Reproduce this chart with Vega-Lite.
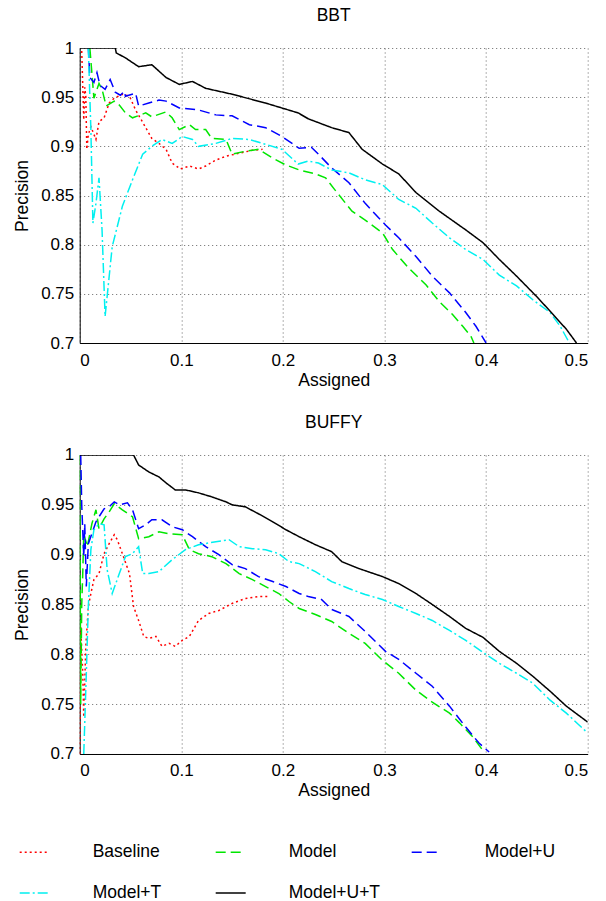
{
"$schema": "https://vega.github.io/schema/vega-lite/v6.json",
"padding": {"left": 12.7, "top": 6, "right": 5, "bottom": 5},
"datasets": {
"bbt": [
{"series":"Baseline","assigned":0.002,"precision":0.997},{"series":"Baseline","assigned":0.004,"precision":0.927},{"series":"Baseline","assigned":0.005,"precision":0.96},{"series":"Baseline","assigned":0.006,"precision":0.951},{"series":"Baseline","assigned":0.007,"precision":0.897},{"series":"Baseline","assigned":0.0085,"precision":0.912},{"series":"Baseline","assigned":0.011,"precision":0.92},{"series":"Baseline","assigned":0.016,"precision":0.907},{"series":"Baseline","assigned":0.019,"precision":0.925},{"series":"Baseline","assigned":0.024,"precision":0.929},{"series":"Baseline","assigned":0.029,"precision":0.944},{"series":"Baseline","assigned":0.034,"precision":0.949},{"series":"Baseline","assigned":0.042,"precision":0.953},{"series":"Baseline","assigned":0.049,"precision":0.951},{"series":"Baseline","assigned":0.055,"precision":0.937},{"series":"Baseline","assigned":0.065,"precision":0.919},{"series":"Baseline","assigned":0.071,"precision":0.908},{"series":"Baseline","assigned":0.078,"precision":0.903},{"series":"Baseline","assigned":0.085,"precision":0.897},{"series":"Baseline","assigned":0.091,"precision":0.883},{"series":"Baseline","assigned":0.099,"precision":0.877},{"series":"Baseline","assigned":0.108,"precision":0.88},{"series":"Baseline","assigned":0.117,"precision":0.877},{"series":"Baseline","assigned":0.124,"precision":0.88},{"series":"Baseline","assigned":0.134,"precision":0.886},{"series":"Baseline","assigned":0.144,"precision":0.89},{"series":"Baseline","assigned":0.157,"precision":0.893},{"series":"Baseline","assigned":0.17,"precision":0.896},{"series":"Baseline","assigned":0.18,"precision":0.897},
{"series":"Model","assigned":0.01,"precision":1.0},{"series":"Model","assigned":0.014,"precision":0.949},{"series":"Model","assigned":0.019,"precision":0.964},{"series":"Model","assigned":0.022,"precision":0.958},{"series":"Model","assigned":0.026,"precision":0.941},{"series":"Model","assigned":0.034,"precision":0.946},{"series":"Model","assigned":0.039,"precision":0.942},{"series":"Model","assigned":0.045,"precision":0.934},{"series":"Model","assigned":0.052,"precision":0.929},{"series":"Model","assigned":0.065,"precision":0.934},{"series":"Model","assigned":0.071,"precision":0.93},{"series":"Model","assigned":0.085,"precision":0.935},{"series":"Model","assigned":0.091,"precision":0.929},{"series":"Model","assigned":0.098,"precision":0.917},{"series":"Model","assigned":0.108,"precision":0.922},{"series":"Model","assigned":0.114,"precision":0.917},{"series":"Model","assigned":0.124,"precision":0.917},{"series":"Model","assigned":0.13,"precision":0.908},{"series":"Model","assigned":0.144,"precision":0.907},{"series":"Model","assigned":0.15,"precision":0.892},{"series":"Model","assigned":0.163,"precision":0.895},{"series":"Model","assigned":0.176,"precision":0.897},{"series":"Model","assigned":0.19,"precision":0.888},{"series":"Model","assigned":0.203,"precision":0.881},{"series":"Model","assigned":0.216,"precision":0.876},{"series":"Model","assigned":0.232,"precision":0.872},{"series":"Model","assigned":0.242,"precision":0.868},{"series":"Model","assigned":0.251,"precision":0.856},{"series":"Model","assigned":0.268,"precision":0.834},{"series":"Model","assigned":0.281,"precision":0.825},{"series":"Model","assigned":0.298,"precision":0.812},{"series":"Model","assigned":0.308,"precision":0.795},{"series":"Model","assigned":0.324,"precision":0.776},{"series":"Model","assigned":0.341,"precision":0.759},{"series":"Model","assigned":0.354,"precision":0.742},{"series":"Model","assigned":0.367,"precision":0.729},{"series":"Model","assigned":0.377,"precision":0.717},{"series":"Model","assigned":0.385,"precision":0.707},{"series":"Model","assigned":0.388,"precision":0.7},
{"series":"Model+U","assigned":0.0085,"precision":1.0},{"series":"Model+U","assigned":0.01,"precision":0.97},{"series":"Model+U","assigned":0.014,"precision":0.965},{"series":"Model+U","assigned":0.017,"precision":0.975},{"series":"Model+U","assigned":0.02,"precision":0.962},{"series":"Model+U","assigned":0.025,"precision":0.958},{"series":"Model+U","assigned":0.03,"precision":0.968},{"series":"Model+U","assigned":0.035,"precision":0.955},{"series":"Model+U","assigned":0.04,"precision":0.952},{"series":"Model+U","assigned":0.044,"precision":0.956},{"series":"Model+U","assigned":0.045,"precision":0.951},{"series":"Model+U","assigned":0.055,"precision":0.954},{"series":"Model+U","assigned":0.058,"precision":0.941},{"series":"Model+U","assigned":0.068,"precision":0.944},{"series":"Model+U","assigned":0.078,"precision":0.947},{"series":"Model+U","assigned":0.085,"precision":0.946},{"series":"Model+U","assigned":0.098,"precision":0.939},{"series":"Model+U","assigned":0.117,"precision":0.937},{"series":"Model+U","assigned":0.134,"precision":0.932},{"series":"Model+U","assigned":0.15,"precision":0.931},{"series":"Model+U","assigned":0.167,"precision":0.922},{"series":"Model+U","assigned":0.183,"precision":0.919},{"series":"Model+U","assigned":0.199,"precision":0.91},{"series":"Model+U","assigned":0.216,"precision":0.898},{"series":"Model+U","assigned":0.228,"precision":0.899},{"series":"Model+U","assigned":0.235,"precision":0.892},{"series":"Model+U","assigned":0.248,"precision":0.878},{"series":"Model+U","assigned":0.265,"precision":0.863},{"series":"Model+U","assigned":0.281,"precision":0.842},{"series":"Model+U","assigned":0.301,"precision":0.82},{"series":"Model+U","assigned":0.314,"precision":0.807},{"series":"Model+U","assigned":0.331,"precision":0.788},{"series":"Model+U","assigned":0.347,"precision":0.768},{"series":"Model+U","assigned":0.364,"precision":0.751},{"series":"Model+U","assigned":0.38,"precision":0.731},{"series":"Model+U","assigned":0.39,"precision":0.717},{"series":"Model+U","assigned":0.4,"precision":0.7},
{"series":"Model+T","assigned":0.0085,"precision":1.0},{"series":"Model+T","assigned":0.011,"precision":0.917},{"series":"Model+T","assigned":0.013,"precision":0.822},{"series":"Model+T","assigned":0.016,"precision":0.842},{"series":"Model+T","assigned":0.019,"precision":0.868},{"series":"Model+T","assigned":0.022,"precision":0.815},{"series":"Model+T","assigned":0.025,"precision":0.727},{"series":"Model+T","assigned":0.032,"precision":0.798},{"series":"Model+T","assigned":0.042,"precision":0.839},{"series":"Model+T","assigned":0.052,"precision":0.866},{"series":"Model+T","assigned":0.062,"precision":0.892},{"series":"Model+T","assigned":0.071,"precision":0.9},{"series":"Model+T","assigned":0.081,"precision":0.907},{"series":"Model+T","assigned":0.091,"precision":0.903},{"series":"Model+T","assigned":0.101,"precision":0.91},{"series":"Model+T","assigned":0.111,"precision":0.907},{"series":"Model+T","assigned":0.117,"precision":0.9},{"series":"Model+T","assigned":0.134,"precision":0.903},{"series":"Model+T","assigned":0.15,"precision":0.908},{"series":"Model+T","assigned":0.167,"precision":0.907},{"series":"Model+T","assigned":0.183,"precision":0.902},{"series":"Model+T","assigned":0.199,"precision":0.897},{"series":"Model+T","assigned":0.215,"precision":0.882},{"series":"Model+T","assigned":0.225,"precision":0.885},{"series":"Model+T","assigned":0.235,"precision":0.883},{"series":"Model+T","assigned":0.248,"precision":0.876},{"series":"Model+T","assigned":0.265,"precision":0.873},{"series":"Model+T","assigned":0.281,"precision":0.866},{"series":"Model+T","assigned":0.298,"precision":0.861},{"series":"Model+T","assigned":0.314,"precision":0.846},{"series":"Model+T","assigned":0.331,"precision":0.837},{"series":"Model+T","assigned":0.347,"precision":0.822},{"series":"Model+T","assigned":0.364,"precision":0.807},{"series":"Model+T","assigned":0.38,"precision":0.795},{"series":"Model+T","assigned":0.397,"precision":0.785},{"series":"Model+T","assigned":0.413,"precision":0.769},{"series":"Model+T","assigned":0.43,"precision":0.758},{"series":"Model+T","assigned":0.446,"precision":0.744},{"series":"Model+T","assigned":0.463,"precision":0.731},{"series":"Model+T","assigned":0.473,"precision":0.717},{"series":"Model+T","assigned":0.482,"precision":0.7},
{"series":"Model+U+T","assigned":0,"precision":1.0},{"series":"Model+U+T","assigned":0.035,"precision":1.0},{"series":"Model+U+T","assigned":0.036,"precision":0.995},{"series":"Model+U+T","assigned":0.045,"precision":0.99},{"series":"Model+U+T","assigned":0.058,"precision":0.981},{"series":"Model+U+T","assigned":0.071,"precision":0.983},{"series":"Model+U+T","assigned":0.085,"precision":0.97},{"series":"Model+U+T","assigned":0.098,"precision":0.963},{"series":"Model+U+T","assigned":0.111,"precision":0.966},{"series":"Model+U+T","assigned":0.124,"precision":0.959},{"series":"Model+U+T","assigned":0.15,"precision":0.953},{"series":"Model+U+T","assigned":0.183,"precision":0.944},{"series":"Model+U+T","assigned":0.215,"precision":0.934},{"series":"Model+U+T","assigned":0.225,"precision":0.928},{"series":"Model+U+T","assigned":0.248,"precision":0.919},{"series":"Model+U+T","assigned":0.265,"precision":0.914},{"series":"Model+U+T","assigned":0.278,"precision":0.897},{"series":"Model+U+T","assigned":0.298,"precision":0.882},{"series":"Model+U+T","assigned":0.314,"precision":0.872},{"series":"Model+U+T","assigned":0.331,"precision":0.853},{"series":"Model+U+T","assigned":0.354,"precision":0.834},{"series":"Model+U+T","assigned":0.38,"precision":0.815},{"series":"Model+U+T","assigned":0.397,"precision":0.802},{"series":"Model+U+T","assigned":0.413,"precision":0.785},{"series":"Model+U+T","assigned":0.43,"precision":0.768},{"series":"Model+U+T","assigned":0.45,"precision":0.747},{"series":"Model+U+T","assigned":0.466,"precision":0.729},{"series":"Model+U+T","assigned":0.479,"precision":0.714},{"series":"Model+U+T","assigned":0.489,"precision":0.7}
],
"buffy": [
{"series":"Baseline","assigned":0,"precision":0.7},{"series":"Baseline","assigned":0.001,"precision":0.828},{"series":"Baseline","assigned":0.003,"precision":0.781},{"series":"Baseline","assigned":0.004,"precision":0.737},{"series":"Baseline","assigned":0.006,"precision":0.808},{"series":"Baseline","assigned":0.0085,"precision":0.848},{"series":"Baseline","assigned":0.011,"precision":0.861},{"series":"Baseline","assigned":0.014,"precision":0.875},{"series":"Baseline","assigned":0.019,"precision":0.881},{"series":"Baseline","assigned":0.024,"precision":0.901},{"series":"Baseline","assigned":0.029,"precision":0.911},{"series":"Baseline","assigned":0.034,"precision":0.92},{"series":"Baseline","assigned":0.037,"precision":0.915},{"series":"Baseline","assigned":0.042,"precision":0.901},{"series":"Baseline","assigned":0.049,"precision":0.881},{"series":"Baseline","assigned":0.053,"precision":0.848},{"series":"Baseline","assigned":0.058,"precision":0.834},{"series":"Baseline","assigned":0.063,"precision":0.818},{"series":"Baseline","assigned":0.068,"precision":0.816},{"series":"Baseline","assigned":0.075,"precision":0.818},{"series":"Baseline","assigned":0.081,"precision":0.808},{"series":"Baseline","assigned":0.088,"precision":0.811},{"series":"Baseline","assigned":0.094,"precision":0.808},{"series":"Baseline","assigned":0.101,"precision":0.814},{"series":"Baseline","assigned":0.108,"precision":0.818},{"series":"Baseline","assigned":0.117,"precision":0.834},{"series":"Baseline","assigned":0.127,"precision":0.841},{"series":"Baseline","assigned":0.137,"precision":0.844},{"series":"Baseline","assigned":0.15,"precision":0.851},{"series":"Baseline","assigned":0.163,"precision":0.856},{"series":"Baseline","assigned":0.176,"precision":0.858},{"series":"Baseline","assigned":0.186,"precision":0.858},
{"series":"Model","assigned":0,"precision":1.0},{"series":"Model","assigned":0.001,"precision":0.75},{"series":"Model","assigned":0.002,"precision":0.85},{"series":"Model","assigned":0.003,"precision":0.881},{"series":"Model","assigned":0.004,"precision":0.921},{"series":"Model","assigned":0.0075,"precision":0.908},{"series":"Model","assigned":0.012,"precision":0.931},{"series":"Model","assigned":0.016,"precision":0.945},{"series":"Model","assigned":0.019,"precision":0.926},{"series":"Model","assigned":0.024,"precision":0.936},{"series":"Model","assigned":0.029,"precision":0.943},{"series":"Model","assigned":0.034,"precision":0.951},{"series":"Model","assigned":0.042,"precision":0.945},{"series":"Model","assigned":0.052,"precision":0.938},{"series":"Model","assigned":0.058,"precision":0.916},{"series":"Model","assigned":0.068,"precision":0.918},{"series":"Model","assigned":0.078,"precision":0.923},{"series":"Model","assigned":0.088,"precision":0.921},{"series":"Model","assigned":0.101,"precision":0.92},{"series":"Model","assigned":0.108,"precision":0.905},{"series":"Model","assigned":0.117,"precision":0.901},{"series":"Model","assigned":0.13,"precision":0.898},{"series":"Model","assigned":0.144,"precision":0.891},{"series":"Model","assigned":0.157,"precision":0.881},{"series":"Model","assigned":0.17,"precision":0.875},{"series":"Model","assigned":0.183,"precision":0.868},{"series":"Model","assigned":0.196,"precision":0.861},{"series":"Model","assigned":0.206,"precision":0.853},{"series":"Model","assigned":0.216,"precision":0.846},{"series":"Model","assigned":0.232,"precision":0.84},{"series":"Model","assigned":0.248,"precision":0.833},{"series":"Model","assigned":0.265,"precision":0.821},{"series":"Model","assigned":0.281,"precision":0.811},{"series":"Model","assigned":0.298,"precision":0.794},{"series":"Model","assigned":0.314,"precision":0.781},{"series":"Model","assigned":0.331,"precision":0.764},{"series":"Model","assigned":0.347,"precision":0.752},{"series":"Model","assigned":0.364,"precision":0.741},{"series":"Model","assigned":0.374,"precision":0.731},{"series":"Model","assigned":0.387,"precision":0.717},{"series":"Model","assigned":0.398,"precision":0.702},
{"series":"Model+U","assigned":0.001,"precision":1.0},{"series":"Model+U","assigned":0.002,"precision":0.95},{"series":"Model+U","assigned":0.004,"precision":0.898},{"series":"Model+U","assigned":0.005,"precision":0.931},{"series":"Model+U","assigned":0.0065,"precision":0.868},{"series":"Model+U","assigned":0.0085,"precision":0.911},{"series":"Model+U","assigned":0.012,"precision":0.921},{"series":"Model+U","assigned":0.016,"precision":0.933},{"series":"Model+U","assigned":0.019,"precision":0.938},{"series":"Model+U","assigned":0.024,"precision":0.946},{"series":"Model+U","assigned":0.029,"precision":0.948},{"series":"Model+U","assigned":0.034,"precision":0.953},{"series":"Model+U","assigned":0.039,"precision":0.95},{"series":"Model+U","assigned":0.047,"precision":0.952},{"series":"Model+U","assigned":0.052,"precision":0.945},{"series":"Model+U","assigned":0.058,"precision":0.926},{"series":"Model+U","assigned":0.065,"precision":0.93},{"series":"Model+U","assigned":0.071,"precision":0.935},{"series":"Model+U","assigned":0.081,"precision":0.935},{"series":"Model+U","assigned":0.091,"precision":0.928},{"series":"Model+U","assigned":0.101,"precision":0.925},{"series":"Model+U","assigned":0.111,"precision":0.918},{"series":"Model+U","assigned":0.124,"precision":0.908},{"series":"Model+U","assigned":0.137,"precision":0.9},{"series":"Model+U","assigned":0.15,"precision":0.89},{"series":"Model+U","assigned":0.163,"precision":0.886},{"series":"Model+U","assigned":0.176,"precision":0.878},{"series":"Model+U","assigned":0.19,"precision":0.873},{"series":"Model+U","assigned":0.203,"precision":0.868},{"series":"Model+U","assigned":0.216,"precision":0.861},{"series":"Model+U","assigned":0.225,"precision":0.858},{"series":"Model+U","assigned":0.238,"precision":0.855},{"series":"Model+U","assigned":0.248,"precision":0.845},{"series":"Model+U","assigned":0.265,"precision":0.838},{"series":"Model+U","assigned":0.281,"precision":0.823},{"series":"Model+U","assigned":0.301,"precision":0.803},{"series":"Model+U","assigned":0.314,"precision":0.795},{"series":"Model+U","assigned":0.331,"precision":0.781},{"series":"Model+U","assigned":0.347,"precision":0.768},{"series":"Model+U","assigned":0.364,"precision":0.748},{"series":"Model+U","assigned":0.38,"precision":0.727},{"series":"Model+U","assigned":0.393,"precision":0.711},{"series":"Model+U","assigned":0.403,"precision":0.702},
{"series":"Model+T","assigned":0.004,"precision":0.7},{"series":"Model+T","assigned":0.0065,"precision":0.78},{"series":"Model+T","assigned":0.0085,"precision":0.848},{"series":"Model+T","assigned":0.011,"precision":0.905},{"series":"Model+T","assigned":0.014,"precision":0.925},{"series":"Model+T","assigned":0.019,"precision":0.931},{"series":"Model+T","assigned":0.024,"precision":0.93},{"series":"Model+T","assigned":0.027,"precision":0.885},{"series":"Model+T","assigned":0.032,"precision":0.861},{"series":"Model+T","assigned":0.039,"precision":0.881},{"series":"Model+T","assigned":0.045,"precision":0.898},{"series":"Model+T","assigned":0.052,"precision":0.901},{"series":"Model+T","assigned":0.058,"precision":0.908},{"series":"Model+T","assigned":0.062,"precision":0.881},{"series":"Model+T","assigned":0.068,"precision":0.881},{"series":"Model+T","assigned":0.078,"precision":0.883},{"series":"Model+T","assigned":0.091,"precision":0.895},{"series":"Model+T","assigned":0.104,"precision":0.905},{"series":"Model+T","assigned":0.117,"precision":0.91},{"series":"Model+T","assigned":0.134,"precision":0.913},{"series":"Model+T","assigned":0.147,"precision":0.915},{"series":"Model+T","assigned":0.157,"precision":0.908},{"series":"Model+T","assigned":0.17,"precision":0.906},{"series":"Model+T","assigned":0.183,"precision":0.905},{"series":"Model+T","assigned":0.196,"precision":0.901},{"series":"Model+T","assigned":0.206,"precision":0.893},{"series":"Model+T","assigned":0.216,"precision":0.891},{"series":"Model+T","assigned":0.232,"precision":0.883},{"series":"Model+T","assigned":0.248,"precision":0.873},{"series":"Model+T","assigned":0.265,"precision":0.866},{"series":"Model+T","assigned":0.281,"precision":0.86},{"series":"Model+T","assigned":0.298,"precision":0.855},{"series":"Model+T","assigned":0.314,"precision":0.848},{"series":"Model+T","assigned":0.331,"precision":0.841},{"series":"Model+T","assigned":0.347,"precision":0.834},{"series":"Model+T","assigned":0.364,"precision":0.824},{"series":"Model+T","assigned":0.38,"precision":0.814},{"series":"Model+T","assigned":0.397,"precision":0.802},{"series":"Model+T","assigned":0.413,"precision":0.791},{"series":"Model+T","assigned":0.43,"precision":0.781},{"series":"Model+T","assigned":0.446,"precision":0.771},{"series":"Model+T","assigned":0.463,"precision":0.754},{"series":"Model+T","assigned":0.479,"precision":0.741},{"series":"Model+T","assigned":0.5,"precision":0.721},
{"series":"Model+U+T","assigned":0,"precision":1.0},{"series":"Model+U+T","assigned":0.053,"precision":1.0},{"series":"Model+U+T","assigned":0.058,"precision":0.99},{"series":"Model+U+T","assigned":0.068,"precision":0.983},{"series":"Model+U+T","assigned":0.078,"precision":0.978},{"series":"Model+U+T","assigned":0.085,"precision":0.972},{"series":"Model+U+T","assigned":0.094,"precision":0.965},{"series":"Model+U+T","assigned":0.104,"precision":0.965},{"series":"Model+U+T","assigned":0.117,"precision":0.962},{"series":"Model+U+T","assigned":0.13,"precision":0.958},{"series":"Model+U+T","assigned":0.144,"precision":0.953},{"series":"Model+U+T","assigned":0.15,"precision":0.95},{"series":"Model+U+T","assigned":0.163,"precision":0.948},{"series":"Model+U+T","assigned":0.176,"precision":0.941},{"series":"Model+U+T","assigned":0.19,"precision":0.933},{"series":"Model+U+T","assigned":0.203,"precision":0.925},{"series":"Model+U+T","assigned":0.216,"precision":0.918},{"series":"Model+U+T","assigned":0.232,"precision":0.91},{"series":"Model+U+T","assigned":0.248,"precision":0.903},{"series":"Model+U+T","assigned":0.258,"precision":0.893},{"series":"Model+U+T","assigned":0.275,"precision":0.886},{"series":"Model+U+T","assigned":0.298,"precision":0.878},{"series":"Model+U+T","assigned":0.314,"precision":0.871},{"series":"Model+U+T","assigned":0.331,"precision":0.861},{"series":"Model+U+T","assigned":0.347,"precision":0.85},{"series":"Model+U+T","assigned":0.364,"precision":0.838},{"series":"Model+U+T","assigned":0.38,"precision":0.826},{"series":"Model+U+T","assigned":0.397,"precision":0.817},{"series":"Model+U+T","assigned":0.413,"precision":0.803},{"series":"Model+U+T","assigned":0.43,"precision":0.791},{"series":"Model+U+T","assigned":0.446,"precision":0.778},{"series":"Model+U+T","assigned":0.463,"precision":0.763},{"series":"Model+U+T","assigned":0.479,"precision":0.748},{"series":"Model+U+T","assigned":0.5,"precision":0.732}
]
},
"spacing": 24,
"vconcat": [
{
"title": "BBT",
"width": 508, "height": 295,
"data": {"name": "bbt"},
"mark": {"type": "line", "strokeWidth": 1.5, "clip": true},
"encoding": {
"x": {"field": "assigned", "type": "quantitative", "title": "Assigned", "scale": {"domain": [0, 0.5], "nice": false}, "axis": {"values": [0, 0.1, 0.2, 0.3, 0.4, 0.5], "format": "~g"}},
"y": {"field": "precision", "type": "quantitative", "title": "Precision", "scale": {"domain": [0.7, 1], "nice": false, "zero": false}, "axis": {"values": [0.7, 0.75, 0.8, 0.85, 0.9, 0.95, 1], "format": "~g"}},
"color": {"field": "series", "type": "nominal", "title": null, "scale": {"domain": ["Baseline", "Model", "Model+U", "Model+T", "Model+U+T"], "range": ["#ff0000", "#00e600", "#0000ff", "#00f0f0", "#000000"]}, "legend": {"orient": "none", "legendX": -66, "legendY": 793, "columns": 3, "direction": "horizontal"}},
"strokeDash": {"field": "series", "type": "nominal", "title": null, "scale": {"domain": ["Baseline", "Model", "Model+U", "Model+T", "Model+U+T"], "range": [[2, 3], [10, 5], [10, 5], [10, 3, 2, 3], [1, 0]]}, "legend": {"orient": "none", "legendX": -66, "legendY": 793, "columns": 3, "direction": "horizontal"}}
}
},
{
"title": "BUFFY",
"width": 508, "height": 299,
"data": {"name": "buffy"},
"mark": {"type": "line", "strokeWidth": 1.5, "clip": true},
"encoding": {
"x": {"field": "assigned", "type": "quantitative", "title": "Assigned", "scale": {"domain": [0, 0.5], "nice": false}, "axis": {"values": [0, 0.1, 0.2, 0.3, 0.4, 0.5], "format": "~g"}},
"y": {"field": "precision", "type": "quantitative", "title": "Precision", "scale": {"domain": [0.7, 1], "nice": false, "zero": false}, "axis": {"values": [0.7, 0.75, 0.8, 0.85, 0.9, 0.95, 1], "format": "~g"}},
"color": {"field": "series", "type": "nominal", "title": null, "scale": {"domain": ["Baseline", "Model", "Model+U", "Model+T", "Model+U+T"], "range": ["#ff0000", "#00e600", "#0000ff", "#00f0f0", "#000000"]}},
"strokeDash": {"field": "series", "type": "nominal", "title": null, "scale": {"domain": ["Baseline", "Model", "Model+U", "Model+T", "Model+U+T"], "range": [[2, 3], [10, 5], [10, 5], [10, 3, 2, 3], [1, 0]]}}
}
}
],
"resolve": {"scale": {"color": "shared", "strokeDash": "shared"}},
"config": {
"font": "Liberation Sans",
"view": {"stroke": null},
"title": {"font": "Liberation Sans", "fontSize": 17.5, "fontWeight": "normal", "color": "#000000", "offset": 15},
"axis": {
"labelFont": "Liberation Sans", "labelFontSize": 17, "labelColor": "#000000",
"titleFont": "Liberation Sans", "titleFontSize": 17.5, "titleFontWeight": "normal", "titleColor": "#000000",
"domainColor": "#000000", "domainWidth": 1,
"ticks": false,
"gridColor": "#666666", "gridDash": [1, 3], "gridWidth": 1, "gridOpacity": 1
},
"axisX": {"labelPadding": 9, "titlePadding": 3},
"axisY": {"labelPadding": 6, "titlePadding": 9},
"legend": {
"labelFont": "Liberation Sans", "labelFontSize": 17.5, "labelColor": "#000000",
"symbolType": "M-0.5,0H2.5", "symbolSize": 400, "symbolStrokeWidth": 1.5,
"labelOffset": 57, "rowPadding": 21, "columnPadding": 25, "gridAlign": "all"
}
}
}
